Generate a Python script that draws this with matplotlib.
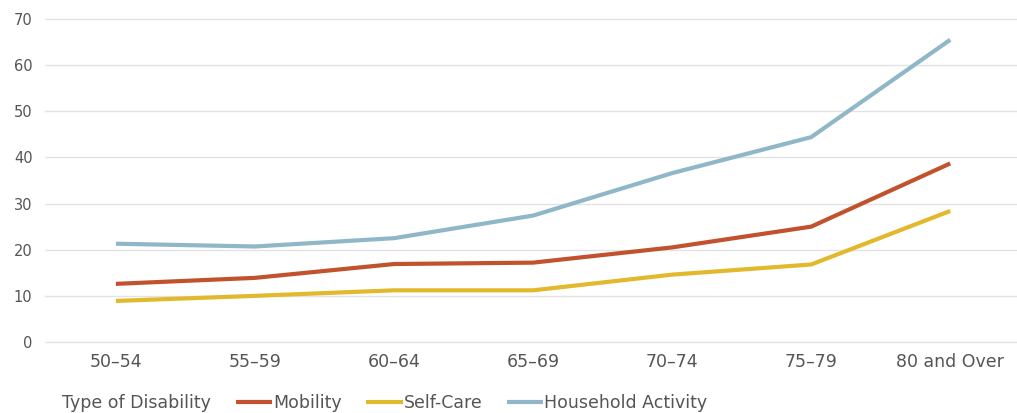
import matplotlib.pyplot as plt

# age groups and share of people with each disability type (%)
age_groups = ['50\u201354', '55\u201359', '60\u201364', '65\u201369', '70\u201374', '75\u201379', '80 and Over']
mobility = [12.6, 13.9, 16.9, 17.2, 20.5, 25.0, 38.7]
self_care = [8.9, 10.0, 11.2, 11.2, 14.6, 16.8, 28.4]
household = [21.3, 20.7, 22.5, 27.4, 36.6, 44.4, 65.5]
y_ticks = [0, 10, 20, 30, 40, 50, 60, 70]

series = [
    ('Mobility', mobility, '#c2522d'),
    ('Self-Care', self_care, '#e2b92d'),
    ('Household Activity', household, '#8fb7c8'),
]

plt.rcParams['font.family'] = ['DejaVu Sans']
text_color = '#555555'

fig = plt.figure(figsize=(10.17, 4.13), dpi=100)
W, H = 1017, 413
ax = fig.add_axes([45 / W, (H - 342) / H, (W - 45) / W, (342 - 19) / H])

x = list(range(len(age_groups)))
for name, vals, color in series:
    ax.plot(x, vals, color=color, lw=3.0, label=name, solid_capstyle='butt',
            solid_joinstyle='round')

ax.set_xlim(-0.51, 6.48)
ax.set_ylim(0, 70)
ax.set_yticks(y_ticks)
ax.set_xticks(x)
ax.set_xticklabels(age_groups)
ax.grid(axis='y', color='#e3e3e3', lw=1.0)
ax.set_axisbelow(True)
for s in ax.spines.values():
    s.set_visible(False)
ax.tick_params(axis='both', length=0, labelcolor=text_color)
ax.tick_params(axis='y', pad=9, labelsize=10.5)
ax.tick_params(axis='x', pad=8, labelsize=12.5)
for gl in ax.get_ygridlines():
    gl.set_clip_on(False)

fig.text(62 / W, (H - 403) / H, 'Type of Disability', fontsize=12.5,
         color=text_color, ha='left', va='center')
leg = fig.legend(loc='center left', bbox_to_anchor=(236 / W, (H - 403) / H),
                 ncol=3, frameon=False, fontsize=12.5, handlelength=2.1,
                 handletextpad=0.05, columnspacing=1.4, borderaxespad=0,
                 borderpad=0)
for t in leg.get_texts():
    t.set_color(text_color)

fig.savefig('out.png', dpi=100)
